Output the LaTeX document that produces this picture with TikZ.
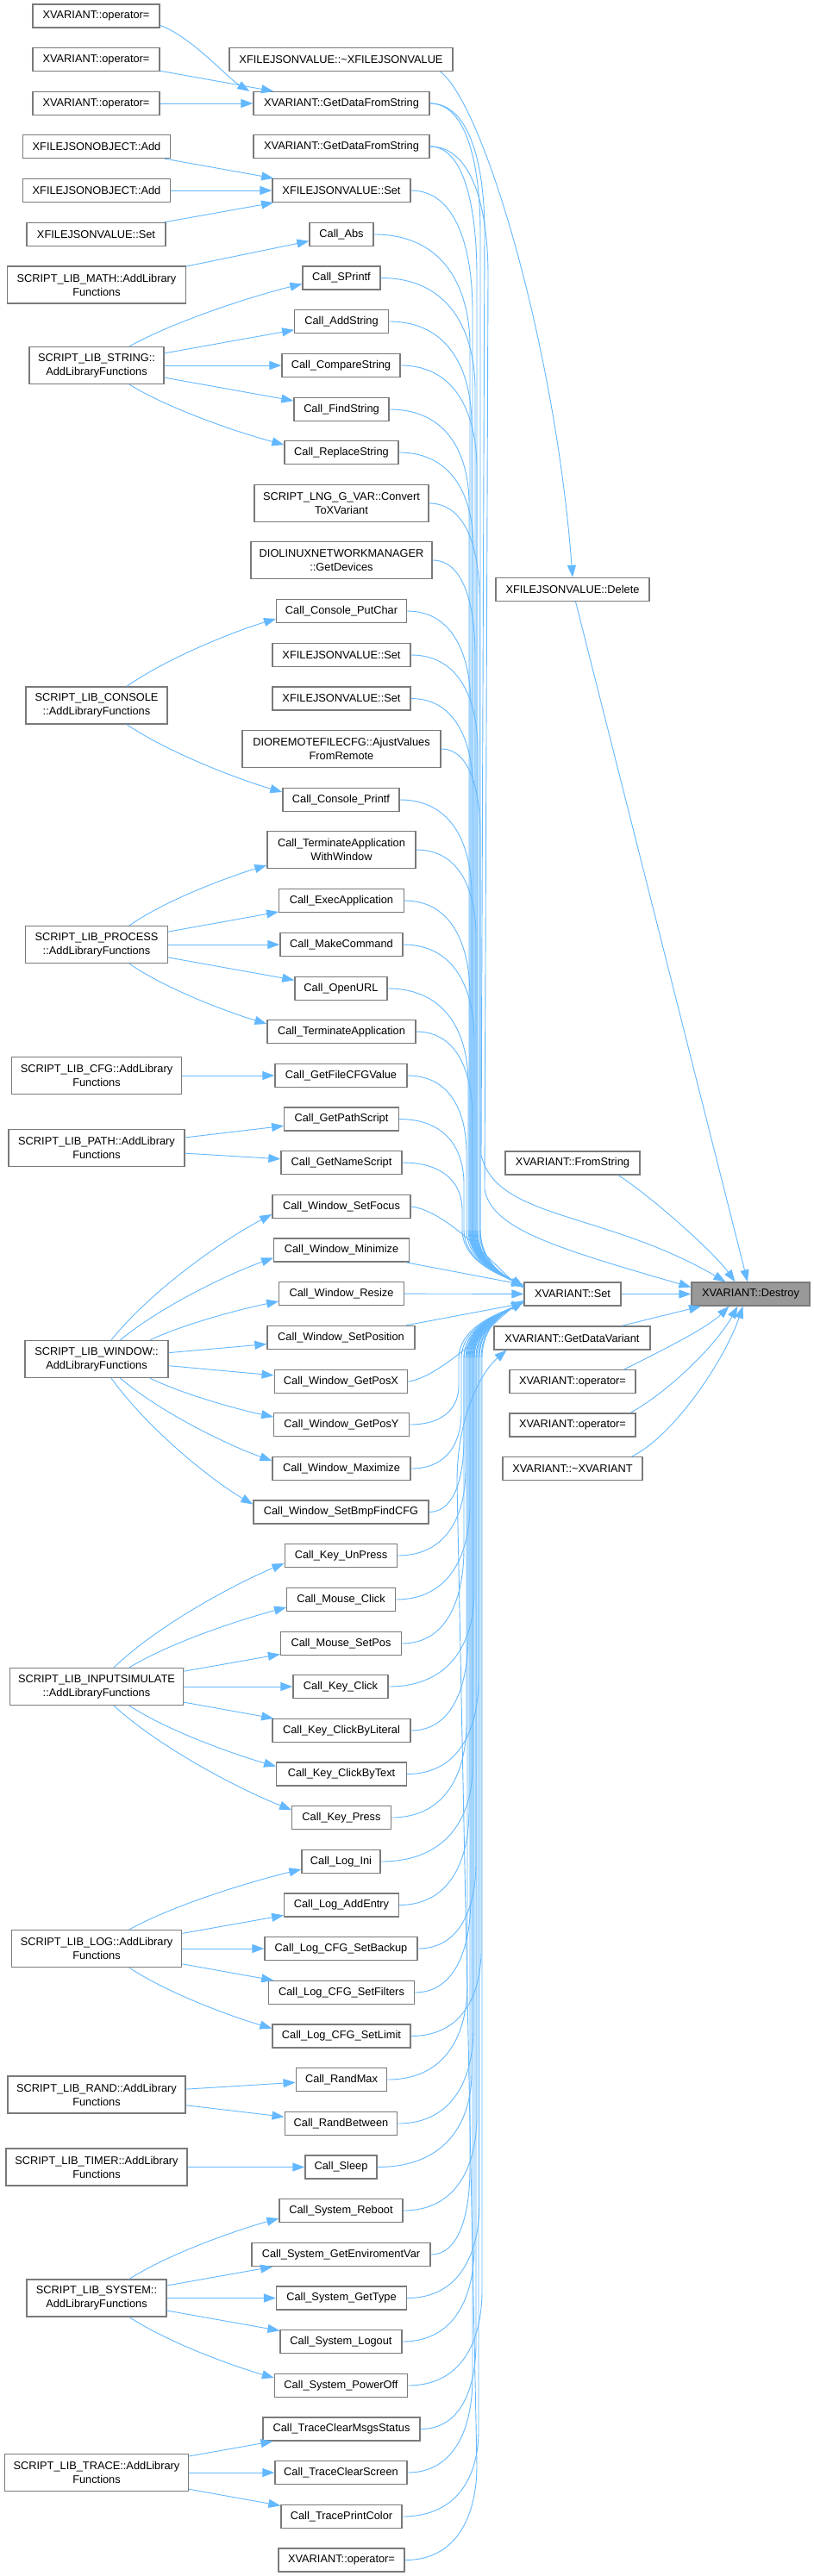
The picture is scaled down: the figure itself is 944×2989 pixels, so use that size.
\documentclass[tikz,border=0pt]{standalone}
\usepackage{fontspec}
\setmainfont{Liberation Sans}
\usetikzlibrary{arrows.meta,calc}
\definecolor{lnkc}{HTML}{63B8FF}
\definecolor{bord}{HTML}{7A7A7A}
\definecolor{dfill}{HTML}{999999}
\tikzset{
  box/.style={draw=bord, fill=white, line width=1.3pt, minimum height=27pt, inner xsep=2pt, inner ysep=0pt, font=\fontsize{12.8pt}{16pt}\selectfont, align=center},
  box2/.style={box, minimum height=43pt},
  lnk/.style={draw=lnkc, line width=0.9pt, -{Triangle[length=14pt,width=10pt]}},
}
\newcommand\nd[5][box]{\node[#1,minimum width=#4pt] (#2) at (#3) {#5};}
\newcommand\eup[3]{\draw[lnk] let \p1=(#1.east), \p2=(xSet.west) in (\p1) .. controls ({0.25*\x1+0.75*#2pt},\y1) and (#2pt,{\y1-0.5*#3pt}) .. (#2pt,{\y1-#3pt}) -- (#2pt,{\y2+75pt}) .. controls (#2pt,{\y2+35pt}) and ({\x2-20pt},{\y2+20pt}) .. ([yshift=8pt]xSet.west);}
\newcommand\edn[3]{\draw[lnk] let \p1=(#1.east), \p2=(xSet.west) in (\p1) .. controls ({0.25*\x1+0.75*#2pt},\y1) and (#2pt,{\y1+0.5*#3pt}) .. (#2pt,{\y1+#3pt}) -- (#2pt,{\y2-75pt}) .. controls (#2pt,{\y2-35pt}) and ({\x2-20pt},{\y2-20pt}) .. ([yshift=-8pt]xSet.west);}
\begin{document}
\begin{tikzpicture}[x=1pt,y=1pt]
\fill[white] (0,0) rectangle (944,-2989);
\useasboundingbox (0,0) rectangle (944,-2989);
% ---------- left column
\nd{opA}{111.5,-18.5}{147}{XVARIANT::operator=}
\nd{opB}{111.5,-69}{147}{XVARIANT::operator=}
\nd{opC}{111.5,-120}{147}{XVARIANT::operator=}
\nd{objAddA}{112,-170}{171}{XFILEJSONOBJECT::Add}
\nd{objAddB}{112,-221}{171}{XFILEJSONOBJECT::Add}
\nd{jsonSetL}{111.5,-272}{161}{XFILEJSONVALUE::Set}
\nd[box2]{libMath}{112,-330.5}{206.5}{SCRIPT\_LIB\_MATH::AddLibrary\\Functions}
\nd[box2]{libString}{112,-424}{156}{SCRIPT\_LIB\_STRING::\\AddLibraryFunctions}
\nd[box2]{libConsole}{112,-818.5}{164}{SCRIPT\_LIB\_CONSOLE\\::AddLibraryFunctions}
\nd[box2]{libProcess}{112,-1096}{165}{SCRIPT\_LIB\_PROCESS\\::AddLibraryFunctions}
\nd[box2]{libCfg}{112,-1248}{197.5}{SCRIPT\_LIB\_CFG::AddLibrary\\Functions}
\nd[box2]{libPath}{112,-1332}{204}{SCRIPT\_LIB\_PATH::AddLibrary\\Functions}
\nd[box2]{libWindow}{112,-1577}{166}{SCRIPT\_LIB\_WINDOW::\\AddLibraryFunctions}
\nd[box2]{libInput}{112,-1957}{201}{SCRIPT\_LIB\_INPUTSIMULATE\\::AddLibraryFunctions}
\nd[box2]{libLog}{112,-2261}{197.5}{SCRIPT\_LIB\_LOG::AddLibrary\\Functions}
\nd[box2]{libRand}{112,-2430.5}{206}{SCRIPT\_LIB\_RAND::AddLibrary\\Functions}
\nd[box2]{libTimer}{112,-2514.5}{210}{SCRIPT\_LIB\_TIMER::AddLibrary\\Functions}
\nd[box2]{libSystem}{112,-2666.5}{162}{SCRIPT\_LIB\_SYSTEM::\\AddLibraryFunctions}
\nd[box2]{libTrace}{112,-2869}{213}{SCRIPT\_LIB\_TRACE::AddLibrary\\Functions}
% ---------- middle column
\nd{jsonDtor}{395.5,-69}{259}{XFILEJSONVALUE::\textasciitilde XFILEJSONVALUE}
\nd{gdfsA}{396,-120}{204}{XVARIANT::GetDataFromString}
\nd{gdfsB}{396,-170}{204}{XVARIANT::GetDataFromString}
\nd{jsonSetA}{396,-221}{160}{XFILEJSONVALUE::Set}
\nd{cAbs}{396,-272}{74}{Call\_Abs}
\nd{cSPrintf}{396,-322.5}{90}{Call\_SPrintf}
\nd{cAddString}{396,-373}{108.5}{Call\_AddString}
\nd{cCompareString}{395.5,-424}{137}{Call\_CompareString}
\nd{cFindString}{396,-475}{110}{Call\_FindString}
\nd{cReplaceString}{396,-525}{132}{Call\_ReplaceString}
\nd[box2]{convVar}{396,-584}{202}{SCRIPT\_LNG\_G\_VAR::Convert\\ToXVariant}
\nd[box2]{getDevices}{396,-650}{210}{DIOLINUXNETWORKMANAGER\\::GetDevices}
\nd{cPutChar}{396,-709}{150.5}{Call\_Console\_PutChar}
\nd{jsonSetB}{396,-760}{160}{XFILEJSONVALUE::Set}
\nd{jsonSetC}{396,-810.5}{160}{XFILEJSONVALUE::Set}
\nd[box2]{ajustVal}{396,-869}{230}{DIOREMOTEFILECFG::AjustValues\\FromRemote}
\nd{cConPrintf}{395.5,-928}{135}{Call\_Console\_Printf}
\nd[box2]{cTermWin}{396,-986}{172}{Call\_TerminateApplication\\WithWindow}
\nd{cExec}{396,-1045}{144.5}{Call\_ExecApplication}
\nd{cMakeCmd}{396,-1096}{142}{Call\_MakeCommand}
\nd{cOpenURL}{395.5,-1147}{107}{Call\_OpenURL}
\nd{cTermApp}{396,-1197}{172}{Call\_TerminateApplication}
\nd{cGetFileCFG}{395.5,-1248}{153}{Call\_GetFileCFGValue}
\nd{cGetPath}{396,-1298.5}{132.5}{Call\_GetPathScript}
\nd{cGetName}{396,-1349}{140}{Call\_GetNameScript}
\nd{cWFocus}{396,-1400}{160}{Call\_Window\_SetFocus}
\nd{cWMin}{396,-1450.5}{156.5}{Call\_Window\_Minimize}
\nd{cWResize}{396,-1501}{144.5}{Call\_Window\_Resize}
\nd{cWSetPos}{395.5,-1552}{171}{Call\_Window\_SetPosition}
\nd{cWPosX}{395.5,-1603}{154.6}{Call\_Window\_GetPosX}
\nd{cWPosY}{396,-1653}{156.5}{Call\_Window\_GetPosY}
\nd{cWMax}{396,-1704}{160}{Call\_Window\_Maximize}
\nd{cWBmp}{395.5,-1754.5}{203}{Call\_Window\_SetBmpFindCFG}
\nd{cKUnPress}{395.5,-1805}{130.6}{Call\_Key\_UnPress}
\nd{cMClick}{395.5,-1856}{125.5}{Call\_Mouse\_Click}
\nd{cMSetPos}{395.5,-1907}{140}{Call\_Mouse\_SetPos}
\nd{cKClick}{395,-1957}{110}{Call\_Key\_Click}
\nd{cKLiteral}{396,-2008}{160}{Call\_Key\_ClickByLiteral}
\nd{cKText}{396,-2058.5}{150.5}{Call\_Key\_ClickByText}
\nd{cKPress}{396,-2109}{114.5}{Call\_Key\_Press}
\nd{cLogIni}{395.5,-2160}{91}{Call\_Log\_Ini}
\nd{cLogAdd}{396,-2210.5}{132.5}{Call\_Log\_AddEntry}
\nd{cLogBackup}{395.5,-2261}{177}{Call\_Log\_CFG\_SetBackup}
\nd{cLogFilters}{396,-2312}{168.5}{Call\_Log\_CFG\_SetFilters}
\nd{cLogLimit}{396,-2362.5}{160}{Call\_Log\_CFG\_SetLimit}
\nd{cRandMax}{396,-2413}{105.6}{Call\_RandMax}
\nd{cRandBetween}{395.5,-2464}{130.6}{Call\_RandBetween}
\nd{cSleep}{395.5,-2514.5}{83}{Call\_Sleep}
\nd{cSysReboot}{395.5,-2565}{143}{Call\_System\_Reboot}
\nd{cSysEnv}{395.5,-2616}{207}{Call\_System\_GetEnviromentVar}
\nd{cSysType}{396,-2666.5}{151}{Call\_System\_GetType}
\nd{cSysLogout}{395.5,-2717}{141}{Call\_System\_Logout}
\nd{cSysOff}{395.5,-2768}{154}{Call\_System\_PowerOff}
\nd{cTrMsgs}{396,-2818.5}{182}{Call\_TraceClearMsgsStatus}
\nd{cTrScreen}{395.5,-2869}{153}{Call\_TraceClearScreen}
\nd{cTrColor}{396,-2920}{140}{Call\_TracePrintColor}
\nd{opM}{396,-2970.5}{146}{XVARIANT::operator=}
% ---------- right columns
\nd{jsonDelete}{664,-684}{178}{XFILEJSONVALUE::Delete}
\nd{fromString}{664,-1349.5}{156}{XVARIANT::FromString}
\nd{xSet}{664,-1501.5}{112}{XVARIANT::Set}
\nd{getDataVar}{663.5,-1552.5}{181}{XVARIANT::GetDataVariant}
\nd{opR1}{664,-1603}{146}{XVARIANT::operator=}
\nd{opR2}{664,-1653.5}{146}{XVARIANT::operator=}
\nd{xDtor}{664,-1704}{162}{XVARIANT::\textasciitilde XVARIANT}
\nd[box,fill=dfill]{destroy}{870.5,-1501.5}{137}{XVARIANT::Destroy}
% ---------- left -> middle
\draw[lnk] ([yshift=-11pt]opA.east) .. controls +(35,-12) and +(-25,15) .. ([xshift=-4pt]gdfsA.north west);
\draw[lnk] (opB) -- (gdfsA);
\draw[lnk] (opC) -- (gdfsA);
\draw[lnk] (objAddA) -- (jsonSetA);
\draw[lnk] (objAddB) -- (jsonSetA);
\draw[lnk] (jsonSetL) -- (jsonSetA);
\draw[lnk] (libMath) -- (cAbs);
\draw[lnk] ([xshift=38pt]libString.north) .. controls +(54,30) and +(-54,-13) .. ([yshift=-7pt]cSPrintf.west);
\draw[lnk] (libString) -- (cAddString);
\draw[lnk] (libString) -- (cCompareString);
\draw[lnk] (libString) -- (cFindString);
\draw[lnk] ([xshift=38pt]libString.south) .. controls +(49,-30) and +(-49,13) .. ([yshift=9pt]cReplaceString.west);
\draw[lnk] ([xshift=35pt]libConsole.north) .. controls +(47,33) and +(-47,-14) .. ([yshift=-9pt]cPutChar.west);
\draw[lnk] ([xshift=35pt]libConsole.south) .. controls +(49,-33) and +(-49,14) .. ([yshift=9pt]cConPrintf.west);
\draw[lnk] ([xshift=38pt]libProcess.north) .. controls +(43,30) and +(-43,-13) .. ([yshift=-18pt]cTermWin.west);
\draw[lnk] (libProcess) -- (cExec);
\draw[lnk] (libProcess) -- (cMakeCmd);
\draw[lnk] (libProcess) -- (cOpenURL);
\draw[lnk] ([xshift=38pt]libProcess.south) .. controls +(43,-30) and +(-43,13) .. ([yshift=9pt]cTermApp.west);
\draw[lnk] (libCfg) -- (cGetFileCFG);
\draw[lnk] (libPath) -- (cGetPath);
\draw[lnk] (libPath) -- (cGetName);
\draw[lnk] ([xshift=17pt]libWindow.north) .. controls +(50,62) and +(-50,-26) .. ([yshift=-9pt]cWFocus.west);
\draw[lnk] ([xshift=27.5pt]libWindow.north) .. controls +(48,40) and +(-48,-17) .. ([yshift=-9pt]cWMin.west);
\draw[lnk] ([xshift=62pt]libWindow.north) .. controls +(40,19) and +(-40,-8) .. ([yshift=-9pt]cWResize.west);
\draw[lnk] (libWindow) -- (cWSetPos);
\draw[lnk] (libWindow) -- (cWPosX);
\draw[lnk] ([xshift=62pt]libWindow.south) .. controls +(39,-19) and +(-39,8) .. ([yshift=9pt]cWPosY.west);
\draw[lnk] ([xshift=27.5pt]libWindow.south) .. controls +(48,-41) and +(-48,17) .. ([yshift=9pt]cWMax.west);
\draw[lnk] ([xshift=17pt]libWindow.south) .. controls +(45,-62) and +(-45,26) .. ([yshift=9pt]cWBmp.west);
\draw[lnk] ([xshift=20pt]libInput.north) .. controls +(53,51) and +(-53,-22) .. ([yshift=-9pt]cKUnPress.west);
\draw[lnk] ([xshift=38pt]libInput.north) .. controls +(49,30) and +(-49,-13) .. ([yshift=-9pt]cMClick.west);
\draw[lnk] (libInput) -- (cMSetPos);
\draw[lnk] (libInput) -- (cKClick);
\draw[lnk] (libInput) -- (cKLiteral);
\draw[lnk] ([xshift=38pt]libInput.south) .. controls +(46,-30) and +(-46,13) .. ([yshift=9pt]cKText.west);
\draw[lnk] ([xshift=20pt]libInput.south) .. controls +(56,-51) and +(-56,22) .. ([yshift=9pt]cKPress.west);
\draw[lnk] ([xshift=38pt]libLog.north) .. controls +(54,30) and +(-54,-13) .. ([yshift=-9pt]cLogIni.west);
\draw[lnk] (libLog) -- (cLogAdd);
\draw[lnk] (libLog) -- (cLogBackup);
\draw[lnk] (libLog) -- (cLogFilters);
\draw[lnk] ([xshift=38pt]libLog.south) .. controls +(45,-30) and +(-45,13) .. ([yshift=9pt]cLogLimit.west);
\draw[lnk] (libRand) -- (cRandMax);
\draw[lnk] (libRand) -- (cRandBetween);
\draw[lnk] (libTimer) -- (cSleep);
\draw[lnk] ([xshift=38pt]libSystem.north) .. controls +(47,30) and +(-47,-13) .. ([yshift=-9pt]cSysReboot.west);
\draw[lnk] (libSystem) -- (cSysEnv);
\draw[lnk] (libSystem) -- (cSysType);
\draw[lnk] (libSystem) -- (cSysLogout);
\draw[lnk] ([xshift=38pt]libSystem.south) .. controls +(46,-30) and +(-46,13) .. ([yshift=9pt]cSysOff.west);
\draw[lnk] (libTrace) -- (cTrMsgs);
\draw[lnk] (libTrace) -- (cTrScreen);
\draw[lnk] (libTrace) -- (cTrColor);
% ---------- middle -> XVARIANT::Set (above)
\eup{gdfsA}{557}{150}
\eup{gdfsB}{553}{150}
\eup{jsonSetA}{548}{140}
\eup{cAbs}{545}{130}
\eup{cSPrintf}{551}{130}
\eup{cAddString}{547}{120}
\eup{cCompareString}{553}{120}
\eup{cFindString}{544}{110}
\eup{cReplaceString}{549}{110}
\eup{convVar}{556}{110}
\eup{getDevices}{551}{110}
\eup{cPutChar}{546}{110}
\eup{jsonSetB}{554}{110}
\eup{jsonSetC}{549}{110}
\eup{ajustVal}{557}{100}
\eup{cConPrintf}{547}{110}
\eup{cTermWin}{552}{100}
\eup{cExec}{545}{110}
\eup{cMakeCmd}{550}{110}
\eup{cOpenURL}{543}{110}
\eup{cTermApp}{548}{100}
\eup{cGetFileCFG}{541}{90}
\eup{cGetPath}{538}{75}
\eup{cGetName}{536}{55}
\draw[lnk] (cWFocus.east) .. controls +(45,-5) and +(-25,15) .. ([yshift=8pt]xSet.west);
\draw[lnk] (cWMin) -- (xSet);
\draw[lnk] (cWResize) -- (xSet);
\draw[lnk] (cWSetPos) -- (xSet);
\draw[lnk] (cWPosX.east) .. controls +(40,5) and +(-25,-15) .. ([yshift=-8pt]xSet.west);
% ---------- middle -> XVARIANT::Set (below)
\edn{cWPosY}{532}{45}
\edn{cWMax}{535}{65}
\edn{cWBmp}{538}{85}
\edn{cKUnPress}{540}{100}
\edn{cMClick}{545}{110}
\edn{cMSetPos}{538}{110}
\edn{cKClick}{550}{110}
\edn{cKLiteral}{543}{110}
\edn{cKText}{555}{110}
\edn{cKPress}{541}{110}
\edn{cLogIni}{548}{110}
\edn{cLogAdd}{544}{110}
\edn{cLogBackup}{552}{100}
\edn{cLogFilters}{546}{110}
\edn{cLogLimit}{558}{100}
\edn{cRandMax}{542}{110}
\edn{cRandBetween}{549}{110}
\edn{cSleep}{547}{110}
\edn{cSysReboot}{553}{110}
\edn{cSysEnv}{545}{100}
\edn{cSysType}{556}{110}
\edn{cSysLogout}{550}{110}
\edn{cSysOff}{559}{110}
\edn{cTrMsgs}{552}{100}
\edn{cTrScreen}{548}{110}
\edn{cTrColor}{555}{100}
% ---------- other calls
\draw[lnk] let \p1=(opM.east) in (\p1) .. controls ({0.25*\x1+0.75*553pt},\y1) and (553pt,{\y1+55pt}) .. (553pt,{\y1+110pt}) -- (530pt,-1720pt) .. controls (530pt,-1640pt) and (560pt,-1590pt) .. ([xshift=-76pt]getDataVar.south);
\draw[lnk] let \p1=(gdfsA.east) in (\p1) .. controls ({0.25*\x1+0.75*562pt},\y1) and (562pt,{\y1-75pt}) .. (562pt,{\y1-150pt}) -- (558pt,-1340pt) .. controls (575pt,-1415pt) and (700pt,-1405pt) .. ([xshift=-29pt]destroy.north);
\draw[lnk] let \p1=(gdfsB.east) in (\p1) .. controls ({0.25*\x1+0.75*566pt},\y1) and (566pt,{\y1-75pt}) .. (566pt,{\y1-150pt}) -- (562pt,-1380pt) .. controls (570pt,-1425pt) and (640pt,-1447pt) .. ([yshift=8pt]destroy.west);
\draw[lnk] ([xshift=115pt]jsonDtor.south) .. controls +(50,-37) and +(-20,268) .. (jsonDelete.north);
\draw[lnk] (jsonDelete) -- (destroy);
\draw[lnk] ([xshift=53pt]fromString.south) .. controls +(35,-22) and +(-25,35) .. ([xshift=-18pt]destroy.north);
\draw[lnk] (xSet) -- (destroy);
\draw[lnk] (getDataVar) -- (destroy);
\draw[lnk] ([xshift=60pt]opR1.north) .. controls +(40,20) and +(-25,-25) .. ([xshift=-25pt]destroy.south);
\draw[lnk] ([xshift=67pt]opR2.north) .. controls +(45,25) and +(-25,-45) .. ([xshift=-15pt]destroy.south);
\draw[lnk] ([xshift=69pt]xDtor.north) .. controls +(50,25) and +(-20,-60) .. ([xshift=-9pt]destroy.south);
\end{tikzpicture}
\end{document}
